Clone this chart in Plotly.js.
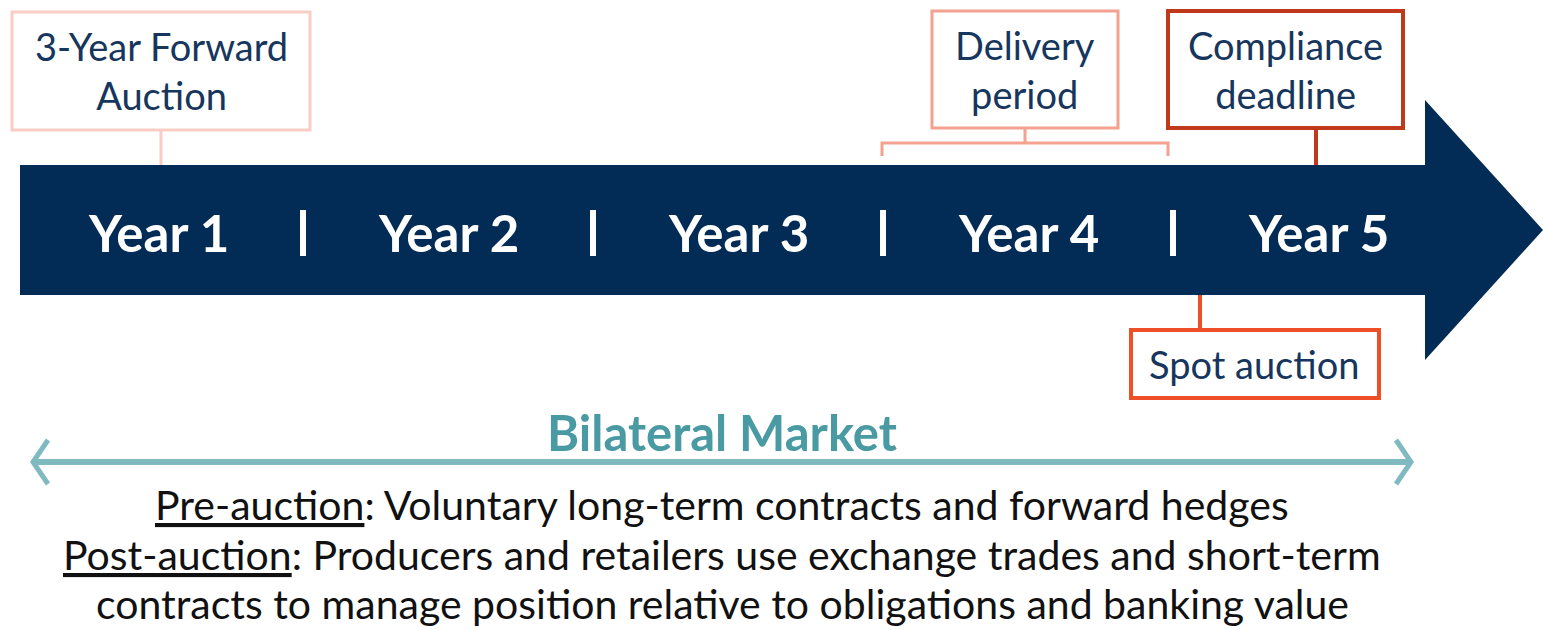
<!DOCTYPE html>
<html>
<head>
<meta charset="utf-8">
<script src="https://cdn.plot.ly/plotly-3.0.1.min.js"></script>
<style>html,body{margin:0;padding:0;background:#fff;}#chart{width:1543px;height:630px;}</style>
</head>
<body>
<div id="chart"></div>
<script>
// ---- content ----
const yearLabels = ['Year 1', 'Year 2', 'Year 3', 'Year 4', 'Year 5'];
const eventLabels = ['3-Year Forward<br>Auction', 'Delivery<br>period', 'Compliance<br>deadline', 'Spot auction'];
const marketTitle = 'Bilateral Market';
const noteLines = [
  '<u>Pre-auction</u>: Voluntary long-term contracts and forward hedges',
  '<u>Post-auction</u>: Producers and retailers use exchange trades and short-term',
  'contracts to manage position relative to obligations and banking value'
];

// ---- layout geometry (pixel-like axis units) ----
const yearX = [158, 448, 738, 1028, 1318];
const sepX = [303, 593, 883, 1173];
const NAVY = '#022b55';
const TEXTNAVY = '#17365d';
const boxes = [
  {x0: 12, x1: 310, y0: 12, y1: 130, color: '#f9cdc4', w: 3, tx: 161, ty: 70},
  {x0: 932, x1: 1118, y0: 11, y1: 128, color: '#f4a18f', w: 3, tx: 1025, ty: 69},
  {x0: 1168, x1: 1403, y0: 11, y1: 128, color: '#c0391b', w: 4, tx: 1285, ty: 69},
  {x0: 1131, x1: 1379, y0: 330, y1: 398, color: '#ef4f26', w: 4, tx: 1254, ty: 364}
];

const shapes = [];
const annotations = [];

// main arrow
shapes.push({type: 'path', xref: 'x', yref: 'y',
  path: 'M 20 165 L 1425 165 L 1425 100 L 1543 230 L 1425 360 L 1425 295 L 20 295 Z',
  fillcolor: NAVY, line: {width: 0}});

// separators
sepX.forEach(x => shapes.push({type: 'line', xref: 'x', yref: 'y', x0: x, x1: x, y0: 210, y1: 256,
  line: {color: '#ffffff', width: 6}}));

// year labels
yearLabels.forEach((t, i) => annotations.push({x: yearX[i], y: 232, xref: 'x', yref: 'y', text: '<b>' + t + '</b>',
  showarrow: false, font: {family: 'Lato, sans-serif', size: 51, color: '#ffffff'}, xanchor: 'center', yanchor: 'middle'}));

// event boxes
boxes.forEach((b, i) => {
  shapes.push({type: 'rect', xref: 'x', yref: 'y', x0: b.x0, x1: b.x1, y0: b.y0, y1: b.y1,
    fillcolor: 'rgba(255,255,255,0)', line: {color: b.color, width: b.w}});
  annotations.push({x: b.tx, y: b.ty, xref: 'x', yref: 'y', text: eventLabels[i], showarrow: false,
    font: {family: 'Lato, sans-serif', size: 38, color: TEXTNAVY}, xanchor: 'center', yanchor: 'middle'});
});

// connectors
shapes.push({type: 'line', xref: 'x', yref: 'y', x0: 161, x1: 161, y0: 130, y1: 165, line: {color: '#f9cdc4', width: 3}});
shapes.push({type: 'path', xref: 'x', yref: 'y', path: 'M 882 156 L 882 143 L 1168 143 L 1168 156 M 1025 128 L 1025 143',
  line: {color: '#f4a18f', width: 3}});
shapes.push({type: 'line', xref: 'x', yref: 'y', x0: 1316, x1: 1316, y0: 128, y1: 165, line: {color: '#c0391b', width: 4}});
shapes.push({type: 'line', xref: 'x', yref: 'y', x0: 1200, x1: 1200, y0: 295, y1: 330, line: {color: '#ef4f26', width: 4}});

// bilateral double arrow
const TEAL = '#7fbac1';
shapes.push({type: 'line', xref: 'x', yref: 'y', x0: 34, x1: 1410, y0: 462, y1: 462, line: {color: TEAL, width: 6}});
shapes.push({type: 'path', xref: 'x', yref: 'y', path: 'M 48 440 L 33 462 L 48 484', line: {color: TEAL, width: 5}});
shapes.push({type: 'path', xref: 'x', yref: 'y', path: 'M 1396 440 L 1411 462 L 1396 484', line: {color: TEAL, width: 5}});

annotations.push({x: 722, y: 432, xref: 'x', yref: 'y', text: '<b>' + marketTitle + '</b>', showarrow: false,
  font: {family: 'Lato, sans-serif', size: 49, color: '#4a9aa3'}, xanchor: 'center', yanchor: 'middle'});

const noteY = [504, 554, 603];
noteLines.forEach((t, i) => annotations.push({x: 722, y: noteY[i], xref: 'x', yref: 'y', text: t, showarrow: false,
  borderpad: 0,
  font: {family: 'Lato, sans-serif', size: 41, color: '#111111'}, xanchor: 'center', yanchor: 'middle'}));

const layout = {
  width: 1543, height: 630,
  margin: {l: 0, r: 0, t: 0, b: 0},
  paper_bgcolor: '#ffffff', plot_bgcolor: '#ffffff',
  xaxis: {range: [0, 1543], visible: false, fixedrange: true},
  yaxis: {range: [630, 0], visible: false, fixedrange: true},
  shapes: shapes, annotations: annotations, showlegend: false
};

Plotly.newPlot('chart', [{x: [], y: [], type: 'scatter', mode: 'markers', hoverinfo: 'skip'}], layout, {staticPlot: true});
</script>
</body>
</html>
